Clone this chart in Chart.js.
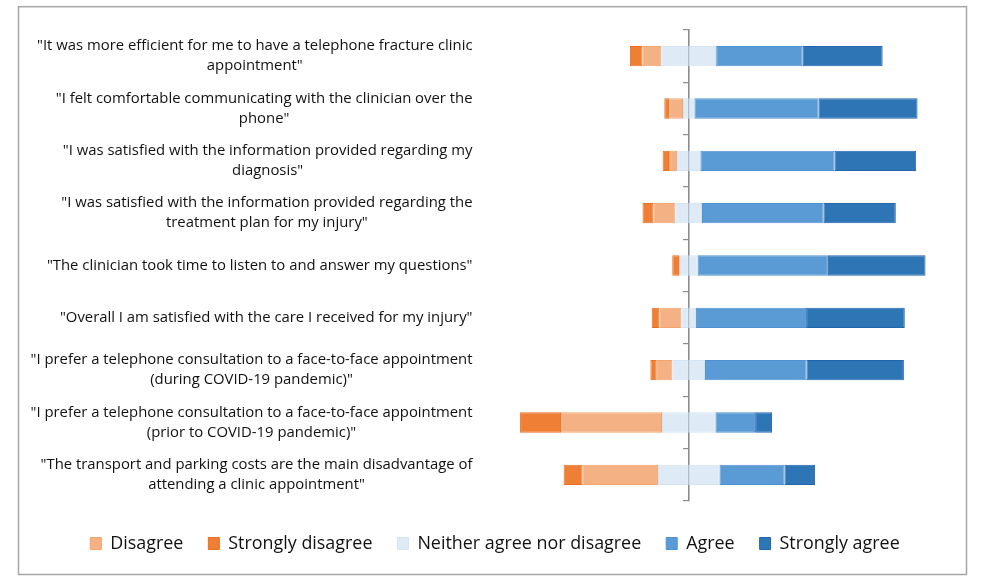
<!DOCTYPE html>
<html>
<head>
<meta charset="utf-8">
<script src="https://cdn.jsdelivr.net/npm/chart.js@4.4.1/dist/chart.umd.min.js"></script>
<style>
  html, body { margin: 0; padding: 0; background: #fff; }
  #wrap { position: relative; width: 986px; height: 578px; }
</style>
</head>
<body>
<div id="wrap"><canvas id="c"></canvas></div>
<script>
// ---------- data ----------
const categories = [
  ['"It was more efficient for me to have a telephone fracture clinic', 'appointment"'],
  ['"I felt comfortable communicating with the clinician over the', 'phone"'],
  ['"I was satisfied with the information provided regarding my', 'diagnosis"'],
  ['"I was satisfied with the information provided regarding the', 'treatment plan for my injury"'],
  ['"The clinician took time to listen to and answer my questions"'],
  ['"Overall I am satisfied with the care I received for my injury"'],
  ['"I prefer a telephone consultation to a face-to-face appointment', '(during COVID-19 pandemic)"'],
  ['"I prefer a telephone consultation to a face-to-face appointment', '(prior to COVID-19 pandemic)"'],
  ['"The transport and parking costs are the main disadvantage of', 'attending a clinic appointment"']
];
const seriesNames = ['Disagree', 'Strongly disagree', 'Neither agree nor disagree', 'Agree', 'Strongly agree'];
const stronglyDisagree = [5.0, 1.9, 2.5, 4.3, 2.7, 3.0, 2.5, 16.2, 7.5];
const disagree         = [7.4, 5.5, 3.2, 8.7, 0.3, 8.7, 6.2, 39.9, 29.8];
const neither          = [21.7, 4.5, 9.2, 10.5, 7.0, 5.8, 12.9, 21.1, 24.3];
const agree            = [34.2, 49.1, 53.0, 48.0, 51.5, 43.5, 40.1, 15.7, 25.7];
const stronglyAgree    = [31.6, 39.1, 32.3, 28.6, 38.6, 39.0, 38.5, 6.7, 12.1];

// ---------- style ----------
const FAMILY = '"Open Sans", "DejaVu Sans", sans-serif';
const colors = {
  sd:  ['#EF7F35', '#E8701F'],
  d:   ['#F4B183', '#F1A56F'],
  n:   ['#DEEBF7', '#D3E4F5'],
  a:   ['#5B9BD5', '#4F92D2'],
  sa:  ['#2E75B6', '#2366AE']
};

// fit font sizes to the reference text widths
const mctx = document.createElement('canvas').getContext('2d');
function fitSize(text, target) {
  mctx.font = '100px ' + FAMILY;
  return 100 * target / mctx.measureText(text).width;
}
const labelSize = fitSize(categories[0][0], 436);
const legendSize = fitSize(seriesNames[2], 224);
const LINE_H = 20;

const PLOT_TOP = 30, PLOT_BOTTOM = 501;
const LEG_PAD = 25, LEG_CENTER = 543.5;
const itemH = Math.max(legendSize, 12);
const legendTop = LEG_CENTER - itemH / 2 - LEG_PAD;
const legendH = itemH + LEG_PAD + 10;
const xAxisH = legendTop - PLOT_BOTTOM;
const padBottom = 578 - legendTop - legendH;
const PAD_L = 22, PAD_R = 18, AREA_L = 486.3, AREA_R = 931.6;

const neg = a => a.map(v => -v);
const half = a => a.map(v => v / 2);

function ds(label, data, c) {
  return {
    label, data,
    backgroundColor: c[0], borderColor: c[1], borderWidth: 1, borderSkipped: false,
    categoryPercentage: 1.0, barPercentage: 0.39
  };
}

const datasets = [
  ds(seriesNames[2], neg(half(neither)), colors.n),
  ds(seriesNames[0], neg(disagree), colors.d),
  ds(seriesNames[1], neg(stronglyDisagree), colors.sd),
  ds(seriesNames[2], half(neither), colors.n),
  ds(seriesNames[3], agree, colors.a),
  ds(seriesNames[4], stronglyAgree, colors.sa)
];
const legendOrder = [1, 2, 0, 4, 5];

const framePlugin = {
  id: 'frame',
  beforeDraw(chart) {
    const ctx = chart.ctx;
    ctx.save();
    ctx.fillStyle = '#ffffff';
    ctx.fillRect(0, 0, chart.width, chart.height);
    ctx.strokeStyle = '#A6A6A6';
    ctx.lineWidth = 1.5;
    ctx.strokeRect(18.5, 6.7, 948, 567.8);
    ctx.restore();
  }
};

const labelPlugin = {
  id: 'catLabels',
  afterDraw(chart) {
    const ctx = chart.ctx;
    const ys = chart.scales.y;
    const right = 472.5;
    ctx.save();
    ctx.font = labelSize + 'px ' + FAMILY;
    ctx.fillStyle = '#111111';
    ctx.textAlign = 'center';
    ctx.textBaseline = 'middle';
    categories.forEach((lines, i) => {
      const yc = ys.getPixelForValue(i);
      const w = Math.max(...lines.map(l => ctx.measureText(l).width));
      const cx = right - w / 2;
      const y0 = yc - (lines.length - 1) * LINE_H / 2;
      lines.forEach((l, k) => ctx.fillText(l, cx, y0 + k * LINE_H));
    });
    ctx.restore();
  }
};

new Chart(document.getElementById('c'), {
  type: 'bar',
  data: { labels: categories, datasets },
  plugins: [framePlugin, labelPlugin],
  options: {
    indexAxis: 'y',
    responsive: true,
    maintainAspectRatio: false,
    animation: false,
    layout: { padding: { top: PLOT_TOP, left: PAD_L, right: PAD_R, bottom: padBottom } },
    scales: {
      x: {
        type: 'linear', stacked: true, min: -80, max: 96,
        display: true,
        ticks: { display: false },
        grid: { display: false },
        border: { display: false },
        afterFit(s) { s.height = xAxisH; }
      },
      y: {
        type: 'category', stacked: true,
        display: true,
        ticks: { display: false },
        grid: { display: false },
        border: { display: false },
        afterFit(s) { s.width = AREA_L - PAD_L; }
      },
      yRight: {
        type: 'category',
        position: 'right',
        display: true,
        ticks: { display: false },
        grid: { display: false },
        border: { display: false },
        afterFit(s) { s.width = 986 - PAD_R - AREA_R; }
      },
      y2: {
        type: 'category',
        position: { x: 0 },
        ticks: { display: false },
        grid: { offset: true, drawOnChartArea: false, drawTicks: true, tickLength: 5, color: '#8C8C8C', lineWidth: 1.2 },
        border: { display: true, color: '#8C8C8C', width: 1.6 }
      }
    },
    plugins: {
      tooltip: { enabled: false },
      legend: {
        position: 'bottom',
        labels: {
          boxWidth: 11,
          boxHeight: 12,
          padding: LEG_PAD,
          color: '#111111',
          font: { family: FAMILY, size: legendSize },
          filter: item => item.datasetIndex !== 3,
          sort: (a, b) => legendOrder.indexOf(a.datasetIndex) - legendOrder.indexOf(b.datasetIndex)
        }
      }
    }
  }
});
</script>
</body>
</html>
